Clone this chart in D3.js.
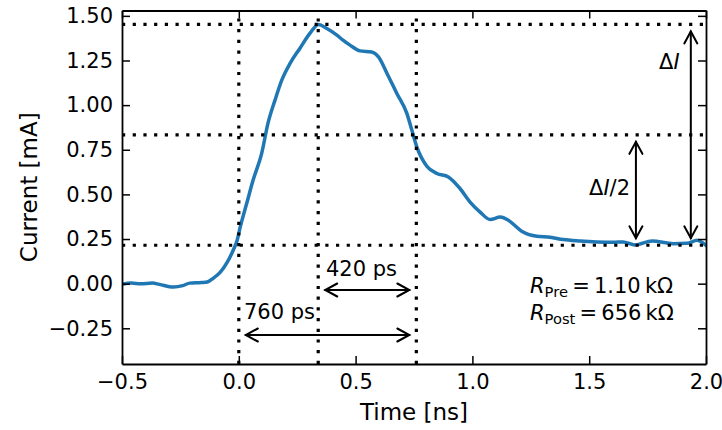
<!DOCTYPE html>
<html>
<head>
<meta charset="utf-8">
<script src="https://cdn.jsdelivr.net/npm/d3@7"></script>
<style>
  html, body { margin: 0; padding: 0; background: #fff; }
  svg { display: block; font-family: "DejaVu Sans", sans-serif; }
</style>
</head>
<body>
<svg id="chart" width="722" height="430"></svg>
<script>
// Measured current pulse
const timeNs = [-0.50, -0.46, -0.42, -0.37, -0.34, -0.28, -0.24, -0.21, -0.16, -0.135, -0.11, -0.08, -0.05, -0.024, -0.007,
  0.006, 0.034, 0.061, 0.098, 0.125, 0.155, 0.184, 0.220, 0.262, 0.305, 0.341, 0.377, 0.420, 0.446, 0.476,
  0.519, 0.569, 0.598, 0.634, 0.676, 0.719, 0.741, 0.762, 0.805, 0.848, 0.897, 0.947, 0.990, 1.033, 1.076,
  1.119, 1.154, 1.197, 1.217, 1.276, 1.333, 1.388, 1.461, 1.533, 1.602, 1.645, 1.696, 1.769, 1.859, 1.919,
  1.962, 1.987, 2.0];
const currentMA = [-0.004, 0.003, 0.000, 0.003, -0.004, -0.019, -0.011, 0.003, 0.006, 0.009, 0.030, 0.063, 0.119, 0.187, 0.243,
  0.317, 0.450, 0.579, 0.730, 0.899, 1.028, 1.140, 1.235, 1.319, 1.403, 1.452, 1.429, 1.392, 1.364, 1.336,
  1.304, 1.298, 1.270, 1.179, 1.067, 0.955, 0.859, 0.766, 0.658, 0.617, 0.598, 0.533, 0.457, 0.401, 0.359,
  0.373, 0.355, 0.308, 0.289, 0.265, 0.260, 0.247, 0.239, 0.234, 0.232, 0.234, 0.217, 0.239, 0.224, 0.226,
  0.243, 0.228, 0.215];

// Reference levels (mA) and times (ns)
const levelsMA = [0.215, 0.8335, 1.452];       // baseline, half height, peak
const markTimesNs = [0.0, 0.34, 0.76];          // onset, peak, half-height on the falling edge

// Tick values
const xTicks = [-0.5, 0.0, 0.5, 1.0, 1.5, 2.0];
const yTicks = [-0.25, 0.00, 0.25, 0.50, 0.75, 1.00, 1.25, 1.50];
const xDomain = [-0.5, 2.0];
const yDomain = [-0.45, 1.53];

// Annotation texts
const widthLabels = ["420 ps", "760 ps"];
const resistanceLabels = [["Pre", "1.10"], ["Post", "656"]];

const svg = d3.select("#chart");
const m = { left: 122, right: 16, top: 10.5, bottom: 66 };
const W = 722, H = 430;
const x = d3.scaleLinear().domain(xDomain).range([m.left, W - m.right]);
const y = d3.scaleLinear().domain(yDomain).range([H - m.bottom, m.top]);

const FS = 21;      // tick labels
const FS_ANN = 21;  // annotations
const FS_LAB = 23;  // axis titles

// Curve
const line = d3.line().x((d, i) => x(timeNs[i])).y(d => y(d)).curve(d3.curveMonotoneX);
svg.append("defs").append("clipPath").attr("id", "plotclip")
  .append("rect").attr("x", x(xDomain[0])).attr("y", y(yDomain[1]))
  .attr("width", x(xDomain[1]) - x(xDomain[0])).attr("height", y(yDomain[0]) - y(yDomain[1]));

svg.append("path").datum(currentMA)
  .attr("clip-path", "url(#plotclip)")
  .attr("d", line)
  .attr("fill", "none").attr("stroke", "#1f77b4").attr("stroke-width", 3.5)
  .attr("stroke-linejoin", "round").attr("stroke-linecap", "square");

// Dotted reference lines
const dotted = svg.append("g").attr("fill", "none").attr("stroke", "#000")
  .attr("stroke-width", 3.2).attr("stroke-dasharray", "3.2 7.5");
levelsMA.forEach(v => {
  dotted.append("line").attr("x1", x(xDomain[0])).attr("x2", x(xDomain[1]))
    .attr("y1", y(v)).attr("y2", y(v));
});
markTimesNs.forEach(t => {
  dotted.append("line").attr("x1", x(t)).attr("x2", x(t))
    .attr("y1", y(yDomain[0])).attr("y2", y(yDomain[1]));
});

// Double-headed arrows with open heads
function arrow(x1, y1, x2, y2) {
  const g = svg.append("g").attr("stroke", "#000").attr("stroke-width", 2).attr("fill", "none")
    .attr("stroke-linecap", "round").attr("stroke-linejoin", "miter");
  g.append("line").attr("x1", x1).attr("y1", y1).attr("x2", x2).attr("y2", y2);
  const a = Math.atan2(y2 - y1, x2 - x1);
  const L = 12, Wd = 6.5;
  const head = (px, py, dir) => {
    const ux = Math.cos(dir), uy = Math.sin(dir);
    const bx = px - ux * L, by = py - uy * L;
    g.append("path").attr("d",
      `M${bx - uy * Wd},${by + ux * Wd}L${px},${py}L${bx + uy * Wd},${by - ux * Wd}`);
  };
  head(x2, y2, a);
  head(x1, y1, a + Math.PI);
}
const inset = 7;
// time spans
arrow(x(markTimesNs[1]) + inset, 290, x(markTimesNs[2]) - inset, 290);
arrow(x(markTimesNs[0]) + inset, 335, x(markTimesNs[2]) - inset, 335);
// current spans
arrow(x(1.935), y(levelsMA[2]) + inset, x(1.935), y(levelsMA[0]) - inset);
arrow(x(1.70), y(levelsMA[1]) + inset, x(1.70), y(levelsMA[0]) - inset);

// Annotation texts
const txt = svg.append("g").attr("font-size", FS_ANN).attr("fill", "#000");
txt.append("text").attr("x", 326).attr("y", 276).text(widthLabels[0]);
txt.append("text").attr("x", 244).attr("y", 319).text(widthLabels[1]);

const dI = txt.append("text").attr("x", 659).attr("y", 69);
dI.append("tspan").text("Δ");
dI.append("tspan").attr("font-style", "italic").text("I");

const dI2 = txt.append("text").attr("x", 589).attr("y", 195);
dI2.append("tspan").text("Δ");
dI2.append("tspan").attr("font-style", "italic").text("I");
dI2.append("tspan").text("/2");

resistanceLabels.forEach((r, i) => {
  const t = txt.append("text").attr("x", 530).attr("y", 293 + i * 27);
  t.append("tspan").attr("font-style", "italic").text("R");
  t.append("tspan").attr("font-size", FS_ANN * 0.7).attr("dy", 4).text(r[0]);
  t.append("tspan").attr("dy", -4).text("\u2009=\u2009" + r[1] + "\u2009kΩ");
});

// Axes with inward ticks on all four sides
const tickLen = 8;
function styleAxis(g) {
  g.selectAll(".domain").attr("stroke", "#000").attr("stroke-width", 1.8);
  g.selectAll(".tick line").attr("stroke", "#000").attr("stroke-width", 1.5);
  g.selectAll(".tick text").attr("font-size", FS).attr("font-family", "DejaVu Sans, sans-serif").attr("fill", "#000");
}
svg.append("g").attr("transform", `translate(0,${y(yDomain[0])})`)
  .call(d3.axisBottom(x).tickValues(xTicks).tickFormat(d3.format(".1f")).tickSizeInner(-tickLen).tickSizeOuter(0).tickPadding(10))
  .call(styleAxis);
svg.append("g").attr("transform", `translate(0,${y(yDomain[1])})`)
  .call(d3.axisTop(x).tickValues(xTicks).tickFormat("").tickSizeInner(-tickLen).tickSizeOuter(0))
  .call(styleAxis);
svg.append("g").attr("transform", `translate(${x(xDomain[0])},0)`)
  .call(d3.axisLeft(y).tickValues(yTicks).tickFormat(d3.format(".2f")).tickSizeInner(-tickLen).tickSizeOuter(0).tickPadding(9))
  .call(styleAxis);
svg.append("g").attr("transform", `translate(${x(xDomain[1])},0)`)
  .call(d3.axisRight(y).tickValues(yTicks).tickFormat("").tickSizeInner(-tickLen).tickSizeOuter(0))
  .call(styleAxis);

// Axis titles
svg.append("text").attr("x", (x(xDomain[0]) + x(xDomain[1])) / 2).attr("y", 420)
  .attr("text-anchor", "middle").attr("font-size", FS_LAB).text("Time [ns]");
svg.append("text").attr("transform", `translate(37,${(y(yDomain[0]) + y(yDomain[1])) / 2}) rotate(-90)`)
  .attr("text-anchor", "middle").attr("font-size", FS_LAB).text("Current [mA]");
</script>
</body>
</html>
